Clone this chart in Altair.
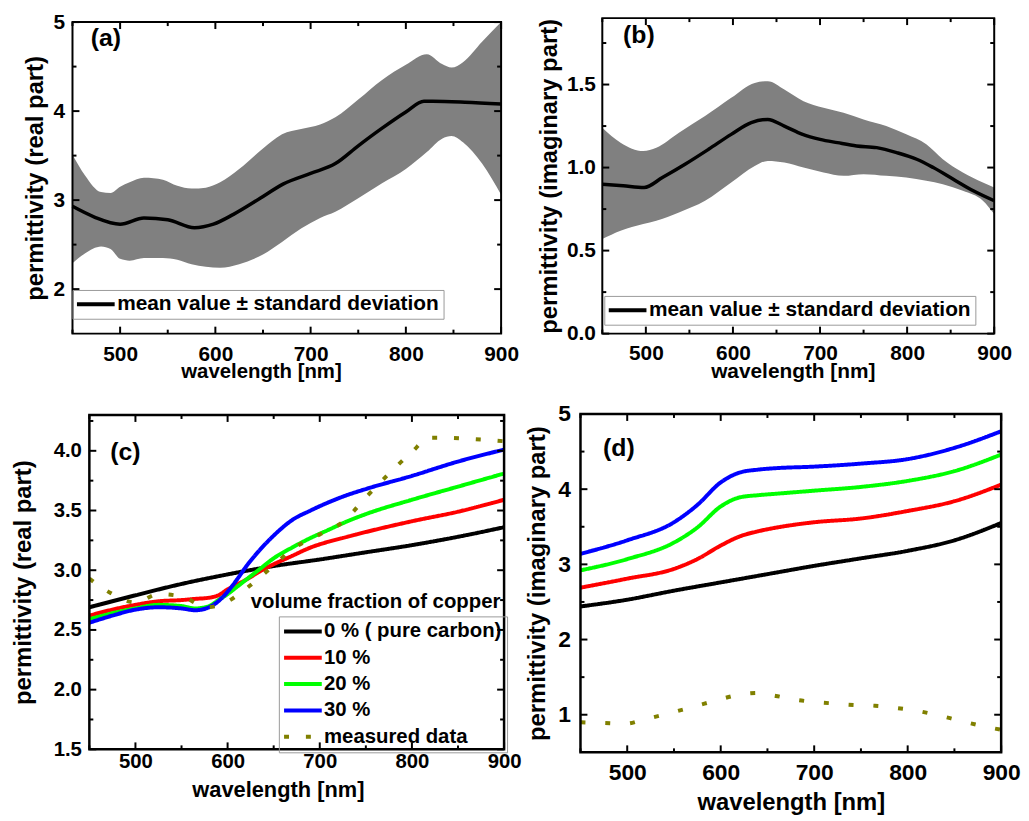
import altair as alt
import pandas as pd

# ---------------- data ----------------
# (a) real part: measured mean and +/- standard deviation band
wl_a_band = [450, 463, 480, 490, 500, 510, 525, 545, 560, 575, 590, 605, 625, 650,
             670, 690, 710, 726, 750, 775, 800, 822, 838, 848, 860, 880, 900]
a_upper = [3.51, 3.28, 3.09, 3.08, 3.15, 3.20, 3.25, 3.23, 3.16, 3.13, 3.14, 3.20, 3.35, 3.58,
           3.74, 3.80, 3.85, 3.93, 4.13, 4.35, 4.52, 4.64, 4.53, 4.49, 4.55, 4.78, 5.00]
a_lower = [2.29, 2.40, 2.48, 2.45, 2.34, 2.32, 2.35, 2.35, 2.33, 2.28, 2.25, 2.24, 2.28, 2.39,
           2.53, 2.68, 2.80, 2.87, 3.02, 3.19, 3.35, 3.54, 3.69, 3.72, 3.65, 3.41, 3.06]
wl_a_mean = [450, 473, 500, 525, 550, 578, 598, 619, 647, 671, 700, 726, 750, 774, 800, 819, 828, 862, 900]
a_mean = [2.93, 2.81, 2.73, 2.80, 2.78, 2.69, 2.73, 2.84, 3.02, 3.18, 3.30, 3.41, 3.61, 3.80,
          3.99, 4.11, 4.11, 4.10, 4.08]

# (b) imaginary part: measured mean and band
wl_b_band = [450, 471, 497, 512, 538, 568, 598, 625, 640, 659, 681, 704, 727, 750, 776, 799,
             822, 841, 864, 887, 900]
b_upper = [1.24, 1.15, 1.10, 1.12, 1.21, 1.31, 1.42, 1.51, 1.52, 1.47, 1.40, 1.36, 1.33, 1.29,
           1.25, 1.20, 1.14, 1.05, 0.97, 0.91, 0.88]
b_lower = [0.57, 0.62, 0.66, 0.68, 0.73, 0.80, 0.91, 1.01, 1.04, 1.03, 1.00, 0.97, 0.95, 0.96,
           0.95, 0.94, 0.92, 0.90, 0.86, 0.80, 0.72]
wl_b_mean = [450, 474, 498, 519, 545, 572, 598, 621, 640, 659, 680, 700, 720, 742, 765, 788,
             811, 830, 853, 876, 900]
b_mean = [0.90, 0.89, 0.88, 0.94, 1.02, 1.11, 1.20, 1.27, 1.29, 1.25, 1.20, 1.17, 1.15, 1.13,
          1.12, 1.09, 1.05, 1.00, 0.93, 0.86, 0.80]

# (c) modelled real part for copper volume fractions
wl_c0 = [450, 500, 550, 600, 650, 700, 750, 800, 850, 900]
c_0 = [2.69, 2.79, 2.885, 2.965, 3.035, 3.09, 3.15, 3.21, 3.28, 3.36]
wl_c = [450, 475, 500, 525, 550, 565, 580, 590, 600, 610, 620, 635, 650, 670, 690, 710, 730,
        750, 800, 850, 900]
c_10 = [2.62, 2.67, 2.71, 2.74, 2.75, 2.76, 2.77, 2.79, 2.84, 2.88, 2.92, 2.99, 3.05, 3.12,
        3.19, 3.24, 3.28, 3.32, 3.41, 3.49, 3.59]
c_20 = [2.59, 2.64, 2.68, 2.71, 2.70, 2.68, 2.70, 2.75, 2.80, 2.86, 2.92, 3.01, 3.10, 3.19,
        3.27, 3.34, 3.41, 3.47, 3.59, 3.70, 3.81]
c_30 = [2.56, 2.62, 2.67, 2.69, 2.68, 2.665, 2.69, 2.74, 2.82, 2.92, 3.03, 3.17, 3.29, 3.42,
        3.50, 3.57, 3.63, 3.68, 3.79, 3.91, 4.01]

# (d) modelled imaginary part
wl_d0 = [450, 500, 550, 600, 650, 700, 750, 800, 850, 900]
d_0 = [2.44, 2.53, 2.65, 2.76, 2.87, 2.98, 3.08, 3.18, 3.32, 3.55]
wl_d = [450, 500, 550, 575, 600, 620, 640, 660, 700, 750, 800, 850, 900]
d_10 = [2.69, 2.81, 2.94, 3.07, 3.25, 3.37, 3.44, 3.49, 3.56, 3.61, 3.71, 3.84, 4.06]
d_20 = [2.92, 3.07, 3.29, 3.49, 3.77, 3.89, 3.92, 3.94, 3.98, 4.03, 4.11, 4.24, 4.46]
d_30 = [3.14, 3.32, 3.56, 3.79, 4.09, 4.22, 4.26, 4.28, 4.30, 4.34, 4.40, 4.55, 4.77]

SERIES = ["0 % ( pure carbon)", "10 %", "20 %", "30 %", "measured data"]
MEAN_LABEL = "mean value ± standard deviation"
LEGEND_TITLE = "volume fraction of copper"
X_TITLE = "wavelength [nm]"
Y_TITLE_RE = "permittivity (real part)"
Y_TITLE_IM = "permittivity (imaginary part)"

x_major = [500, 600, 700, 800, 900]
x_minor = [450, 550, 650, 750, 850]
ya_major = [2, 3, 4, 5]
ya_minor = [2.5, 3.5, 4.5]
yb_major = [0.0, 0.5, 1.0, 1.5]
yb_minor = [0.25, 0.75, 1.25, 1.75]
yc_major = [1.5, 2.0, 2.5, 3.0, 3.5, 4.0]
yc_minor = [1.75, 2.25, 2.75, 3.25, 3.75, 4.25]
yd_major = [1, 2, 3, 4, 5]
yd_minor = [1.5, 2.5, 3.5, 4.5]

# ---------------- styling / layout ----------------
FONT = "Liberation Sans"
BLACK = "#000000"
COLORS = ["#000000", "#ff0000", "#00ff00", "#0000ff", "#808000"]
DASHES = [[1, 0], [1, 0], [1, 0], [1, 0], [5, 17]]
SYM = "M-2.375,0H2.375"
MAJOR, MINOR = 7, 4   # inward tick lengths in pixels

# cell size and frame (plot box) inside the cell: (left, top, right, bottom)
GEO = {
    "a": dict(W=432, H=318, frame=(0, 4, 432, 318)),
    "b": dict(W=417, H=318, frame=(22, 0, 417, 318)),
    "c": dict(W=435, H=341, frame=(17, 1, 435, 338)),
    "d": dict(W=424, H=341, frame=(0, 0, 424, 341)),
}


def x_axis(offset, lsize, lpad, tsize, title_x, title_y):
    return alt.Axis(orient="bottom", values=x_major, offset=offset, domain=False, grid=False,
                    ticks=False, tickSize=0, zindex=2,
                    labelFont=FONT, labelFontSize=lsize, labelFontWeight="bold",
                    labelColor=BLACK, labelPadding=lpad, labelBaseline="alphabetic",
                    labelFlush=False, labelOverlap=False,
                    title=X_TITLE, titleFont=FONT, titleFontSize=tsize,
                    titleFontWeight="bold", titleColor=BLACK, titleX=title_x,
                    titleY=title_y, titleBaseline="alphabetic")


def y_axis(values, offset, fmt, lsize, lpad, title, tsize, tpad):
    kw = dict(orient="left", values=values, offset=offset, domain=False, grid=False,
              ticks=False, tickSize=0, zindex=2,
              labelFont=FONT, labelFontSize=lsize, labelFontWeight="bold",
              labelColor=BLACK, labelPadding=lpad, labelFlush=False, labelOverlap=False,
              title=title, titleFont=FONT, titleFontSize=tsize, titleFontWeight="bold",
              titleColor=BLACK, titlePadding=tpad)
    if fmt:
        kw["format"] = fmt
    return alt.Axis(**kw)


def text_layer(xs, ys, wl, v, txt, size, align="center"):
    df = pd.DataFrame({"wl": [wl], "v": [v], "t": [txt]})
    return alt.Chart(df).mark_text(font=FONT, fontSize=size, fontWeight="bold", color=BLACK,
                                   align=align, baseline="middle").encode(
        x=alt.X("wl:Q", scale=xs, axis=None),
        y=alt.Y("v:Q", scale=ys, axis=None),
        text="t:N")


def legend(x, y, size, pad, rowpad):
    return alt.Legend(orient="none", legendX=x, legendY=y, title=None, symbolType=SYM,
                      symbolSize=256, symbolStrokeWidth=4, symbolOffset=9, labelOffset=11,
                      labelFont=FONT, labelFontSize=size, labelFontWeight="bold",
                      labelColor=BLACK, labelLimit=1000, strokeColor="#9a9a9a",
                      padding=pad, rowPadding=rowpad)


def tick_layers(xs, ys, xdom, ydom, ymaj, ymin_, ppx, ppy):
    """Inward ticks on all four sides; tick length converted to data units."""
    out = []
    for vals, ln in ((x_major, MAJOR), (x_minor, MINOR)):
        d = ln / ppy
        for base, sign in ((ydom[0], 1), (ydom[1], -1)):
            df = pd.DataFrame({"t": vals, "a": base, "b": base + sign * d})
            out.append(alt.Chart(df).mark_rule(color=BLACK, strokeWidth=2).encode(
                x=alt.X("t:Q", scale=xs, axis=None),
                y=alt.Y("a:Q", scale=ys, axis=None), y2="b:Q"))
    for vals, ln in ((ymaj, MAJOR), (ymin_, MINOR)):
        d = ln / ppx
        for base, sign in ((xdom[0], 1), (xdom[1], -1)):
            df = pd.DataFrame({"t": vals, "a": base, "b": base + sign * d})
            out.append(alt.Chart(df).mark_rule(color=BLACK, strokeWidth=2).encode(
                y=alt.Y("t:Q", scale=ys, axis=None),
                x=alt.X("a:Q", scale=xs, axis=None), x2="b:Q"))
    return out


def panel(key, ydom, ymaj, ymin_, yfmt, lsize, xtsize, ytsize, xlpad, ylpad, ytpad,
          title_x, title_y, ytitle, frame_w, make_layers):
    g = GEO[key]
    W, H = g["W"], g["H"]
    fl, ft, fr, fb = g["frame"]
    xdom = [450, 900]
    xs = alt.Scale(domain=xdom, range=[fl, fr], nice=False, zero=False)
    ys = alt.Scale(domain=ydom, range=[fb, ft], nice=False, zero=False)
    ppx = (fr - fl) / (xdom[1] - xdom[0])
    ppy = (fb - ft) / (ydom[1] - ydom[0])
    fdf = pd.DataFrame({"x": [xdom[0]], "x2": [xdom[1]], "y": [ydom[0]], "y2": [ydom[1]]})

    frame = alt.Chart(fdf).mark_rect(fill="white", fillOpacity=0, stroke=BLACK,
                                     strokeWidth=frame_w).encode(
        x=alt.X("x:Q", scale=xs,
                axis=x_axis(fb - H, lsize, xlpad, xtsize, title_x, title_y)),
        x2="x2:Q",
        y=alt.Y("y:Q", scale=ys,
                axis=y_axis(ymaj, -fl, yfmt, lsize, ylpad, ytitle, ytsize, ytpad)),
        y2="y2:Q")
    layers = (make_layers(xs, ys) + [frame]
              + tick_layers(xs, ys, xdom, ydom, ymaj, ymin_, ppx, ppy))
    return alt.layer(*layers).resolve_axis(x="independent", y="independent").properties(
        width=W, height=H)


def measured_panel(wl_band, upper, lower, wl_mean, mean, label, lab_pos, leg_pos):
    def make(xs, ys):
        band = alt.Chart(pd.DataFrame({"wl": wl_band, "hi": upper, "lo": lower})).mark_area(
            color="#808080", opacity=1, interpolate="monotone").encode(
            x=alt.X("wl:Q", scale=xs, axis=None),
            y=alt.Y("hi:Q", scale=ys, axis=None), y2="lo:Q")
        line = alt.Chart(pd.DataFrame({"wl": wl_mean, "v": mean, "s": MEAN_LABEL})).mark_line(
            strokeWidth=3.5, interpolate="monotone").encode(
            x=alt.X("wl:Q", scale=xs, axis=None),
            y=alt.Y("v:Q", scale=ys, axis=None),
            color=alt.Color("s:N", scale=alt.Scale(domain=[MEAN_LABEL], range=[BLACK]),
                            legend=legend(leg_pos[0], leg_pos[1], 21, 4, 5)))
        return [band, line, text_layer(xs, ys, lab_pos[0], lab_pos[1], label, 25)]
    return make


def model_panel(curves, meas_wl, meas_vals, label, lab_pos, with_legend, dash):
    rows = []
    for name, (wl, vals) in zip(SERIES[:4], curves):
        rows.append(pd.DataFrame({"wl": wl, "v": vals, "s": name}))
    rows.append(pd.DataFrame({"wl": meas_wl, "v": meas_vals, "s": SERIES[4]}))
    df = pd.concat(rows, ignore_index=True)

    def make(xs, ys):
        if with_legend:
            leg = legend(208, 204, 20.5, 5, 5.5)
        else:
            leg = None
        dashes = DASHES[:4] + [dash]
        line = alt.Chart(df).mark_line(strokeWidth=4, interpolate="monotone").encode(
            x=alt.X("wl:Q", scale=xs, axis=None),
            y=alt.Y("v:Q", scale=ys, axis=None),
            color=alt.Color("s:N", scale=alt.Scale(domain=SERIES, range=COLORS), legend=leg),
            strokeDash=alt.StrokeDash("s:N", scale=alt.Scale(domain=SERIES, range=dashes),
                                      legend=leg),
            detail="s:N")
        out = [line, text_layer(xs, ys, lab_pos[0], lab_pos[1], label, 25)]
        if with_legend:
            out.append(text_layer(xs, ys, 896, 2.733, LEGEND_TITLE, 20.5, align="right"))
        return out
    return make


pa = panel("a", [1.5, 5], ya_major, ya_minor, None, 21, 20.5, 24, 27, 8, 6, 190, 44,
           Y_TITLE_RE, 2,
           measured_panel(wl_a_band, a_upper, a_lower, wl_a_mean, a_mean, "(a)",
                          (485, 4.82), (0, 274)))
pb = panel("b", [0, 1.9], yb_major, yb_minor, ".1f", 21, 21, 24, 26, 7, 5, 214, 44,
           Y_TITLE_IM, 2,
           measured_panel(wl_b_band, b_upper, b_lower, wl_b_mean, b_mean, "(b)",
                          (492, 1.80), (24, 280)))
pc = panel("c", [1.5, 4.3], yc_major, yc_minor, ".1f", 20.5, 22, 24, 18, 8, 18, 207, 48,
           Y_TITLE_RE, 2.5,
           model_panel([(wl_c0, c_0), (wl_c, c_10), (wl_c, c_20), (wl_c, c_30)],
                       wl_a_mean, a_mean, "(c)", (489, 3.99), True, [5, 17]))
pd_ = panel("d", [0.5, 5], yd_major, yd_minor, None, 23, 24, 24, 27, 10, 8, 212, 58,
            Y_TITLE_IM, 2.5,
            model_panel([(wl_d0, d_0), (wl_d, d_10), (wl_d, d_20), (wl_d, d_30)],
                        wl_b_mean, b_mean, "(d)", (491, 4.55), False, [5, 20]))

chart = alt.concat(pa, pb, pc, pd_, columns=2,
                   spacing=alt.RowColnumber(row=81, column=77),
                   bounds="flush").resolve_scale(
    color="independent", strokeDash="independent").resolve_legend(
    color="independent", strokeDash="independent").properties(
    padding={"left": 3, "top": 0, "right": 0, "bottom": 0},
    background="white").configure_view(stroke=None)

chart.save("out.html", embed_options={"renderer": "svg", "actions": False})
